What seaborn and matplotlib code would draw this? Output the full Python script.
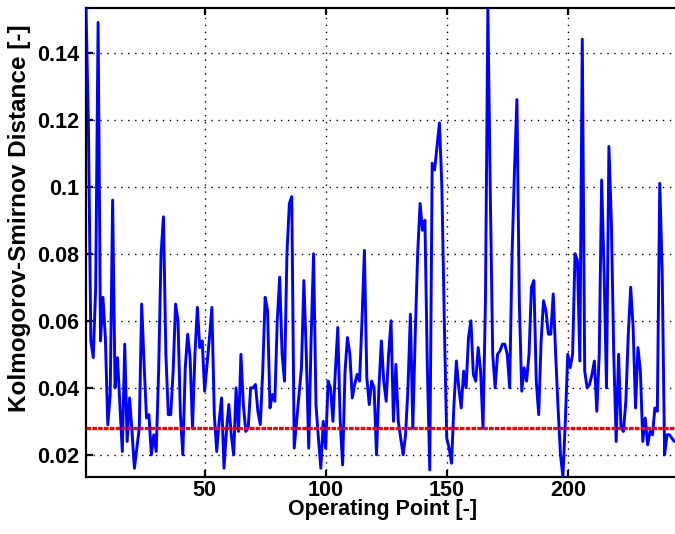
import numpy as np
import pandas as pd
import matplotlib
matplotlib.use("Agg")
import matplotlib.pyplot as plt
import seaborn as sns

# ---------------- data ----------------
operating_point = list(range(1, 245))
ks_distance = [
    0.153, 0.118, 0.054, 0.049, 0.070, 0.149, 0.054, 0.067, 0.055, 0.029,
    0.038, 0.096, 0.040, 0.049, 0.035, 0.021, 0.053, 0.024, 0.037, 0.027,
    0.016, 0.022, 0.028, 0.065, 0.047, 0.031, 0.032, 0.020, 0.026, 0.021,
    0.045, 0.080, 0.091, 0.050, 0.032, 0.032, 0.045, 0.065, 0.060, 0.032,
    0.020, 0.046, 0.056, 0.049, 0.028, 0.050, 0.064, 0.052, 0.054, 0.039,
    0.047, 0.055, 0.064, 0.032, 0.021, 0.030, 0.037, 0.016, 0.027, 0.035,
    0.026, 0.020, 0.040, 0.027, 0.050, 0.035, 0.027, 0.028, 0.040, 0.040,
    0.041, 0.033, 0.029, 0.045, 0.067, 0.063, 0.034, 0.038, 0.036, 0.060,
    0.073, 0.050, 0.042, 0.080, 0.095, 0.097, 0.022, 0.030, 0.038, 0.046,
    0.072, 0.050, 0.022, 0.055, 0.080, 0.035, 0.025, 0.016, 0.030, 0.022,
    0.042, 0.040, 0.030, 0.045, 0.058, 0.030, 0.017, 0.045, 0.055, 0.050,
    0.037, 0.041, 0.044, 0.042, 0.060, 0.081, 0.043, 0.035, 0.042, 0.040,
    0.020, 0.040, 0.054, 0.042, 0.036, 0.050, 0.060, 0.030, 0.047, 0.030,
    0.025, 0.020, 0.026, 0.040, 0.062, 0.028, 0.056, 0.080, 0.095, 0.087,
    0.090, 0.046, 0.0155, 0.107, 0.105, 0.112, 0.119, 0.100, 0.060, 0.025,
    0.022, 0.0175, 0.035, 0.048, 0.040, 0.034, 0.045, 0.040, 0.055, 0.060,
    0.044, 0.042, 0.052, 0.045, 0.028, 0.066, 0.153, 0.098, 0.050, 0.040,
    0.050, 0.051, 0.053, 0.053, 0.050, 0.040, 0.080, 0.105, 0.126, 0.065,
    0.039, 0.046, 0.042, 0.050, 0.070, 0.072, 0.042, 0.032, 0.054, 0.066,
    0.063, 0.056, 0.056, 0.068, 0.050, 0.034, 0.020, 0.0135, 0.030, 0.050,
    0.046, 0.050, 0.080, 0.078, 0.048, 0.144, 0.045, 0.040, 0.041, 0.044,
    0.048, 0.033, 0.050, 0.102, 0.075, 0.040, 0.112, 0.090, 0.050, 0.024,
    0.050, 0.028, 0.027, 0.036, 0.056, 0.070, 0.058, 0.034, 0.052, 0.045,
    0.024, 0.031, 0.023, 0.027, 0.026, 0.034, 0.033, 0.101, 0.075, 0.020,
    0.026, 0.026, 0.025, 0.024,
]
threshold = 0.028
x_ticks = [50, 100, 150, 200]
y_ticks = [0.02, 0.04, 0.06, 0.08, 0.10, 0.12, 0.14]
y_tick_labels = ["0.02", "0.04", "0.06", "0.08", "0.1", "0.12", "0.14"]
x_label = "Operating Point [-]"
y_label = "Kolmogorov-Smirnov Distance [-]"

# ---------------- style ----------------
sns.set_style("white")
plt.rcParams["font.family"] = ["Liberation Sans", "DejaVu Sans"]
plt.rcParams["font.weight"] = "bold"

W, H = 675, 534
fig = plt.figure(figsize=(W / 100, H / 100), dpi=100)
left, right, top, bottom = 86, 675, 8, 477
ax = fig.add_axes([left / W, 1 - bottom / H, (right - left) / W, (bottom - top) / H])

df = pd.DataFrame({"op": operating_point, "ks": ks_distance})
sns.lineplot(data=df, x="op", y="ks", ax=ax, color=(0, 0, 1), linewidth=2.1, zorder=3)
ax.axhline(threshold, color=(1, 0, 0), linewidth=2.4,
           linestyle=(0, (1.4, 0.35)), zorder=4)

ax.set_xlim(1, 244.3)
ax.set_ylim(0.0134, 0.1533)
ax.set_xticks(x_ticks)
ax.set_xticklabels([str(t) for t in x_ticks])
ax.set_yticks(y_ticks)
ax.set_yticklabels(y_tick_labels)

ax.grid(True, color="black", linestyle=(0, (1, 4)), linewidth=1.0, zorder=1)
ax.set_axisbelow(True)

for s in ["left", "bottom", "top"]:
    ax.spines[s].set_visible(True)
    ax.spines[s].set_color("black")
    ax.spines[s].set_linewidth(1.6)
ax.spines["right"].set_visible(False)

ax.tick_params(axis="both", which="major", direction="in", length=5, width=1.6,
               labelsize=15.5, colors="black", labelcolor="black",
               top=True, bottom=True, left=True)
ax.tick_params(axis="x", pad=2)
ax.tick_params(axis="y", pad=5)
for lbl in ax.get_xticklabels() + ax.get_yticklabels():
    lbl.set_fontweight("bold")

ax.set_xlabel(x_label, fontsize=15.5, fontweight="bold", color="black")
ax.set_ylabel(y_label, fontsize=17.5, fontweight="bold", color="black")
ax.xaxis.set_label_coords((383 - left) / (right - left), -(510 - bottom) / (bottom - top))
ax.yaxis.set_label_coords(-(86 - 20) / (right - left), (bottom - 218) / (bottom - top))
ax.xaxis.label.set_va("center")
ax.yaxis.label.set_va("center")

fig.savefig("out.png", dpi=100)
